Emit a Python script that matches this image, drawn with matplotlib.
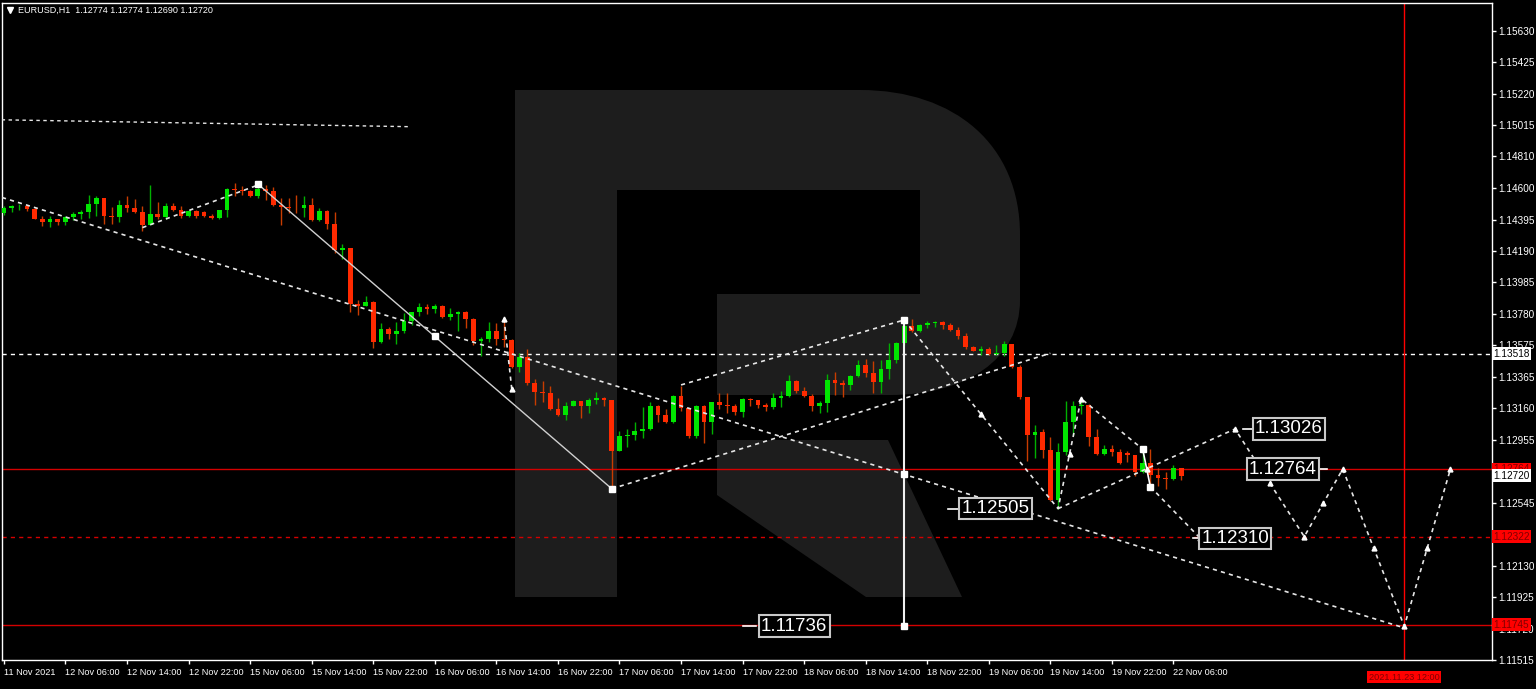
import matplotlib
matplotlib.use('Agg')
import numpy as np
import matplotlib.pyplot as plt
from matplotlib.path import Path
from matplotlib.patches import PathPatch, Polygon

plt.rcParams['font.family'] = ['Liberation Sans', 'DejaVu Sans']

# EURUSD H1 bars, bar 0 = 11 Nov 22:00 ... bar 153 = 22 Nov 07:00
opens = [
    1.14440, 1.14472, 1.14483, 1.14487, 1.14466, 1.14401, 1.14380, 1.14399, 1.14382, 1.14410,
    1.14432, 1.14448, 1.14498, 1.14537, 1.14419, 1.14412, 1.14492, 1.14468, 1.14444, 1.14358,
    1.14435, 1.14412, 1.14487, 1.14461, 1.14422, 1.14451, 1.14442, 1.14420, 1.14405, 1.14455,
    1.14595, 1.14590, 1.14582, 1.14548, 1.14595, 1.14580, 1.14494, 1.14477, 1.14472, 1.14468,
    1.14490, 1.14395, 1.14451, 1.14364, 1.14196, 1.14209, 1.13843, 1.13832, 1.13856, 1.13594,
    1.13683, 1.13646, 1.13668, 1.13735, 1.13789, 1.13825, 1.13810, 1.13832, 1.13761, 1.13775,
    1.13791, 1.13743, 1.13599, 1.13616, 1.13664, 1.13614, 1.13610, 1.13431, 1.13495, 1.13329,
    1.13269, 1.13261, 1.13157, 1.13118, 1.13178, 1.13209, 1.13174, 1.13215, 1.13230, 1.13215,
    1.12885, 1.12978, 1.12984, 1.13015, 1.13023, 1.13178, 1.13118, 1.13070, 1.13243, 1.13161,
    1.12980, 1.13178, 1.13070, 1.13200, 1.13183, 1.13177, 1.13135, 1.13222, 1.13215, 1.13182,
    1.13169, 1.13228, 1.13243, 1.13340, 1.13275, 1.13243, 1.13174, 1.13193, 1.13346, 1.13329,
    1.13312, 1.13372, 1.13442, 1.13394, 1.13334, 1.13420, 1.13480, 1.13588, 1.13700, 1.13664,
    1.13707, 1.13722, 1.13728, 1.13707, 1.13675, 1.13636, 1.13560, 1.13539, 1.13548, 1.13517,
    1.13522, 1.13584, 1.13433, 1.13232, 1.12984, 1.13006, 1.12887, 1.12564, 1.12876, 1.13070,
    1.13174, 1.13183, 1.12973, 1.12861, 1.12892, 1.12876, 1.12870, 1.12855, 1.12747, 1.12801,
    1.12726, 1.12708, 1.12700, 1.12774]
highs = [
    1.14485, 1.14494, 1.14498, 1.14487, 1.14472, 1.14422, 1.14422, 1.14401, 1.14419, 1.14444,
    1.14457, 1.14554, 1.14548, 1.14537, 1.14479, 1.14522, 1.14548, 1.14531, 1.14483, 1.14619,
    1.14509, 1.14505, 1.14505, 1.14487, 1.14461, 1.14461, 1.14451, 1.14435, 1.14461, 1.14602,
    1.14634, 1.14613, 1.14591, 1.14639, 1.14619, 1.14606, 1.14537, 1.14537, 1.14558, 1.14548,
    1.14537, 1.14472, 1.14455, 1.14444, 1.14239, 1.14212, 1.13869, 1.13896, 1.13864, 1.13717,
    1.13691, 1.13724, 1.13782, 1.13793, 1.13851, 1.13843, 1.13843, 1.13840, 1.13819, 1.13798,
    1.13795, 1.13750, 1.13627, 1.13724, 1.13717, 1.13748, 1.13616, 1.13523, 1.13552, 1.13355,
    1.13340, 1.13309, 1.13226, 1.13204, 1.13215, 1.13209, 1.13230, 1.13269, 1.13238, 1.13215,
    1.13010, 1.13023, 1.13070, 1.13172, 1.13200, 1.13183, 1.13157, 1.13248, 1.13309, 1.13165,
    1.13183, 1.13183, 1.13204, 1.13264, 1.13261, 1.13187, 1.13230, 1.13228, 1.13215, 1.13196,
    1.13261, 1.13275, 1.13379, 1.13346, 1.13301, 1.13254, 1.13211, 1.13384, 1.13398, 1.13346,
    1.13379, 1.13476, 1.13481, 1.13470, 1.13474, 1.13588, 1.13593, 1.13739, 1.13743, 1.13713,
    1.13730, 1.13733, 1.13735, 1.13722, 1.13691, 1.13652, 1.13567, 1.13567, 1.13562, 1.13578,
    1.13603, 1.13584, 1.13442, 1.13237, 1.13049, 1.13023, 1.12973, 1.12937, 1.13211, 1.13211,
    1.13222, 1.13189, 1.13023, 1.12920, 1.12920, 1.12894, 1.12883, 1.12855, 1.12898, 1.12894,
    1.12769, 1.12747, 1.12790, 1.12774]
lows = [
    1.14427, 1.14444, 1.14461, 1.14451, 1.14397, 1.14354, 1.14349, 1.14358, 1.14362, 1.14393,
    1.14397, 1.14403, 1.14422, 1.14364, 1.14364, 1.14382, 1.14444, 1.14440, 1.14322, 1.14358,
    1.14401, 1.14397, 1.14451, 1.14408, 1.14414, 1.14408, 1.14412, 1.14397, 1.14397, 1.14412,
    1.14548, 1.14558, 1.14544, 1.14539, 1.14526, 1.14483, 1.14360, 1.14440, 1.14440, 1.14412,
    1.14386, 1.14386, 1.14332, 1.14175, 1.14138, 1.13788, 1.13772, 1.13832, 1.13556, 1.13588,
    1.13614, 1.13584, 1.13653, 1.13707, 1.13765, 1.13778, 1.13782, 1.13750, 1.13739, 1.13670,
    1.13685, 1.13578, 1.13502, 1.13594, 1.13578, 1.13560, 1.13424, 1.13398, 1.13312, 1.13185,
    1.13200, 1.13152, 1.13111, 1.13082, 1.13178, 1.13096, 1.13129, 1.13189, 1.13178, 1.12617,
    1.12885, 1.12908, 1.12952, 1.12969, 1.13017, 1.13070, 1.13066, 1.13066, 1.13146, 1.12967,
    1.12967, 1.12931, 1.12995, 1.13157, 1.13131, 1.13118, 1.13103, 1.13174, 1.13161, 1.13146,
    1.13157, 1.13172, 1.13232, 1.13261, 1.13238, 1.13146, 1.13129, 1.13135, 1.13247, 1.13232,
    1.13280, 1.13368, 1.13368, 1.13264, 1.13261, 1.13355, 1.13455, 1.13578, 1.13657, 1.13659,
    1.13685, 1.13696, 1.13679, 1.13670, 1.13614, 1.13552, 1.13534, 1.13513, 1.13513, 1.13513,
    1.13502, 1.13426, 1.13222, 1.12818, 1.12834, 1.12837, 1.12553, 1.12505, 1.12855, 1.12984,
    1.13125, 1.12915, 1.12859, 1.12855, 1.12850, 1.12797, 1.12812, 1.12719, 1.12736, 1.12643,
    1.12650, 1.12635, 1.12693, 1.12690]
closes = [
    1.14472, 1.14483, 1.14487, 1.14466, 1.14401, 1.14380, 1.14399, 1.14382, 1.14410, 1.14432,
    1.14448, 1.14498, 1.14537, 1.14419, 1.14412, 1.14492, 1.14468, 1.14444, 1.14358, 1.14435,
    1.14412, 1.14487, 1.14461, 1.14422, 1.14451, 1.14422, 1.14420, 1.14405, 1.14455, 1.14595,
    1.14590, 1.14582, 1.14548, 1.14595, 1.14580, 1.14494, 1.14477, 1.14472, 1.14468, 1.14490,
    1.14395, 1.14451, 1.14364, 1.14196, 1.14209, 1.13843, 1.13832, 1.13856, 1.13594, 1.13683,
    1.13646, 1.13668, 1.13735, 1.13789, 1.13825, 1.13810, 1.13832, 1.13761, 1.13775, 1.13791,
    1.13743, 1.13599, 1.13616, 1.13664, 1.13614, 1.13610, 1.13431, 1.13495, 1.13329, 1.13269,
    1.13261, 1.13157, 1.13118, 1.13178, 1.13209, 1.13174, 1.13215, 1.13230, 1.13215, 1.12885,
    1.12978, 1.12984, 1.13015, 1.13023, 1.13178, 1.13118, 1.13070, 1.13243, 1.13161, 1.12980,
    1.13178, 1.13070, 1.13200, 1.13183, 1.13177, 1.13135, 1.13222, 1.13215, 1.13182, 1.13169,
    1.13228, 1.13243, 1.13340, 1.13275, 1.13243, 1.13174, 1.13193, 1.13346, 1.13329, 1.13312,
    1.13372, 1.13442, 1.13394, 1.13334, 1.13420, 1.13480, 1.13588, 1.13700, 1.13664, 1.13707,
    1.13722, 1.13728, 1.13707, 1.13675, 1.13636, 1.13560, 1.13539, 1.13548, 1.13517, 1.13522,
    1.13584, 1.13433, 1.13232, 1.12984, 1.13006, 1.12887, 1.12564, 1.12876, 1.13070, 1.13174,
    1.13183, 1.12973, 1.12861, 1.12892, 1.12876, 1.12801, 1.12855, 1.12747, 1.12801, 1.12726,
    1.12708, 1.12700, 1.12774, 1.12720]

date_ticks = list(range(0, 153, 8))
date_labels = ['11 Nov 2021', '12 Nov 06:00', '12 Nov 14:00', '12 Nov 22:00', '15 Nov 06:00',
               '15 Nov 14:00', '15 Nov 22:00', '16 Nov 06:00', '16 Nov 14:00', '16 Nov 22:00',
               '17 Nov 06:00', '17 Nov 14:00', '17 Nov 22:00', '18 Nov 06:00', '18 Nov 14:00',
               '18 Nov 22:00', '19 Nov 06:00', '19 Nov 14:00', '19 Nov 22:00', '22 Nov 06:00']
price_ticks = [1.15630, 1.15425, 1.15220, 1.15015, 1.14810, 1.14600, 1.14395, 1.14190, 1.13985,
               1.13780, 1.13575, 1.13365, 1.13160, 1.12955, 1.12750, 1.12545, 1.12340, 1.12130,
               1.11925, 1.11720, 1.11515]
hidden_ticks = [1.12750, 1.12340]  # fully covered by the price tags

# levels
level_pivot = 1.13518
level_target = 1.12764
level_mid = 1.12322
level_low = 1.11745
last_price = 1.12720
cursor_bar = 182  # 2021.11.23 12:00

# wave markup (bar, price)
old_line_x, old_line_y = [-0.3, 52.8], [1.15048, 1.15003]
trend_x, trend_y = [-0.25, 182], [1.14540, 1.11725]
rise_x, rise_y = [18, 33], [1.14343, 1.14621]
drop_x, drop_y = [33, 56, 79], [1.14628, 1.13631, 1.12635]
tick_x, tick_y = [65, 66], [1.13748, 1.13288]
chan_up_x, chan_up_y = [79, 136], [1.12635, 1.13521]
chan_hi_x, chan_hi_y = [88, 117], [1.13314, 1.13739]
meas_x, meas_y = [117, 117, 117], [1.13739, 1.12732, 1.11736]
wave_x, wave_y = [117, 137, 140, 148], [1.13739, 1.12505, 1.13224, 1.12894]
kink_x, kink_y = [148, 148.5, 149], [1.12894, 1.12771, 1.12648]
dip_x, dip_y = [149, 155.5], [1.12648, 1.12310]
fc_x = [137, 160, 169, 174, 182, 188]
fc_y = [1.12505, 1.13026, 1.12322, 1.12764, 1.11736, 1.12764]

# boxed price labels: text, centre bar, price, leader from, leader to
boxes = [('1.13026', 167.0, 1.13026, 161.0, 162.6),
         ('1.12764', 166.2, 1.12764, 172.0, 170.6),
         ('1.12505', 128.9, 1.12505, 122.7, 124.5),
         ('1.12310', 160.0, 1.12310, 154.5, 155.7),
         ('1.11736', 102.7, 1.11736, 96.0, 97.8)]

W, H = 1536, 689
fig = plt.figure(figsize=(W / 100, H / 100), dpi=100, facecolor='black')

# background logo (pixel space)
bg = fig.add_axes([0, 0, 1, 1])
bg.set_xlim(0, W)
bg.set_ylim(H, 0)
bg.axis('off')
logo = '#1d1d1d'
verts = [(515, 90), (860, 90), (955, 90), (1020, 145), (1020, 235), (1020, 300),
         (1020, 360), (965, 395), (890, 395), (717, 395), (717, 294), (920, 294),
         (920, 190), (617, 190), (617, 597), (515, 597), (515, 90)]
codes = [Path.MOVETO, Path.LINETO, Path.CURVE4, Path.CURVE4, Path.CURVE4, Path.LINETO,
         Path.CURVE4, Path.CURVE4, Path.CURVE4, Path.LINETO, Path.LINETO, Path.LINETO,
         Path.LINETO, Path.LINETO, Path.LINETO, Path.LINETO, Path.CLOSEPOLY]
bg.add_patch(PathPatch(Path(verts, codes), fc=logo, ec='none'))
bg.add_patch(Polygon([(717, 440), (888, 440), (962, 597), (866, 597), (717, 495)],
                     closed=True, fc=logo, ec='none'))
bg.plot([10], [10], marker='v', ms=4, color='white')
fig.text(18 / W, 1 - 10 / H, 'EURUSD,H1  1.12774 1.12774 1.12690 1.12720',
         color='white', fontsize=6.5, va='center')

ax = fig.add_axes([2 / W, 1 - 660 / H, 1490 / W, 657 / H])
ax.set_facecolor('none')
ax.set_zorder(1)
ax.set_xlim(-0.25, 193.4)
ax.set_ylim(1.11561, 1.15812)

# candles
o, h, l, c = (np.array(v) for v in (opens, highs, lows, closes))
x = np.arange(len(c))
up = c >= o
lo = np.minimum(o, c)
hgt = np.maximum(np.abs(c - o), 0.00004)
ax.vlines(x[up], l[up], h[up], color='#00b000', lw=1, zorder=3)
ax.vlines(x[~up], l[~up], h[~up], color='#c83c00', lw=1, zorder=3)
ax.bar(x[up], hgt[up], 0.62, bottom=lo[up], color='#00e600', lw=0, zorder=4)
ax.bar(x[~up], hgt[~up], 0.62, bottom=lo[~up], color='#ff2a00', lw=0, zorder=4)

# horizontal levels and cursor line
dash = (0, (3, 3))
ax.axhline(level_pivot, color='white', lw=1, ls=dash, zorder=2)
ax.axhline(level_target, color='#d40000', lw=1, zorder=2)
ax.axhline(level_mid, color='#d40000', lw=1, ls=dash, zorder=2)
ax.axhline(level_low, color='#d40000', lw=1, zorder=2)
ax.axvline(cursor_bar, color='#ff0000', lw=1, zorder=2)

# markup lines
wc = '#e6e6e6'
dot = (0, (2.5, 2.5))
ax.plot(old_line_x, old_line_y, color=wc, lw=1, ls=dot, zorder=5)
for xs, ys in [(trend_x, trend_y), (rise_x, rise_y), (tick_x, tick_y), (chan_up_x, chan_up_y),
               (chan_hi_x, chan_hi_y), (wave_x, wave_y), (dip_x, dip_y), (fc_x, fc_y)]:
    ax.plot(xs, ys, color=wc, lw=1.2, ls=dot, zorder=5)
ax.plot(drop_x, drop_y, color='#d0d0d0', lw=1, zorder=5)
ax.plot(meas_x, meas_y, color='#f0f0f0', lw=1.5, zorder=5)
ax.plot(kink_x, kink_y, color='white', lw=1.2, zorder=5)

# node markers
sq_x = [33, 56, 79, 117, 117, 117, 148, 149]
sq_y = [1.14628, 1.13631, 1.12635, 1.13739, 1.12732, 1.11736, 1.12894, 1.12648]
ax.plot(sq_x, sq_y, 's', ms=4, color='white', zorder=6)
ar_x = [65, 66, 140, 155.5] + fc_x[1:]
ar_y = [1.13748, 1.13288, 1.13224, 1.12310] + fc_y[1:]
mid_x = [(a + b) / 2 for a, b in zip(fc_x[:-1], fc_x[1:])] + [127, 138.5]
mid_y = [(a + b) / 2 for a, b in zip(fc_y[:-1], fc_y[1:])] + [1.13122, 1.12865]
ax.plot(ar_x + mid_x, ar_y + mid_y, '^', ms=3.5, color='white', zorder=6)

# boxed labels with leaders
for txt, bx, by, l0, l1 in boxes:
    ax.plot([l0, l1], [by, by], color='white', lw=1.2, zorder=7)
    ax.text(bx, by, txt, color='white', fontsize=13.5, ha='center', va='center', zorder=8,
            bbox=dict(boxstyle='square,pad=0.12', fc='black', ec='#c8c8c8', lw=1.5))

# axis styling
for s in ax.spines.values():
    s.set_color('white')
    s.set_linewidth(1)
ax.yaxis.tick_right()
ax.set_yticks(price_ticks)
ax.set_yticklabels(['' if v in hidden_ticks else '%.5f' % v for v in price_ticks])
ax.set_xticks(date_ticks)
ax.set_xticklabels(date_labels)
ax.tick_params(colors='white', length=3, width=1)
ax.tick_params(axis='y', pad=1.5, labelsize=7.2)
ax.tick_params(axis='x', pad=3, labelsize=6.6)
for t in ax.get_xticklabels():
    t.set_ha('left')

# right price tags
tags = [(level_pivot, '1.13518', 'white', 'black'),
        (level_target, '1.12764', '#ff0000', '#800000'),
        (last_price, '1.12720', 'white', 'black'),
        (level_mid, '1.12322', '#ff0000', '#800000'),
        (level_low, '1.11745', '#ff0000', '#800000')]
for val, txt, fcol, tcol in tags:
    ax.text(1.001, val, txt, transform=ax.get_yaxis_transform(), fontsize=7.2, color=tcol,
            ha='left', va='center', zorder=10, clip_on=False,
            bbox=dict(boxstyle='square,pad=0.15', fc=fcol, ec='none'))
ax.text(cursor_bar, -0.026, '2021.11.23 12:00', transform=ax.get_xaxis_transform(),
        fontsize=6.6, color='#800000', ha='center', va='center', zorder=10, clip_on=False,
        bbox=dict(boxstyle='square,pad=0.2', fc='#ff0000', ec='none'))

fig.savefig('out.png', dpi=100, facecolor='black')
